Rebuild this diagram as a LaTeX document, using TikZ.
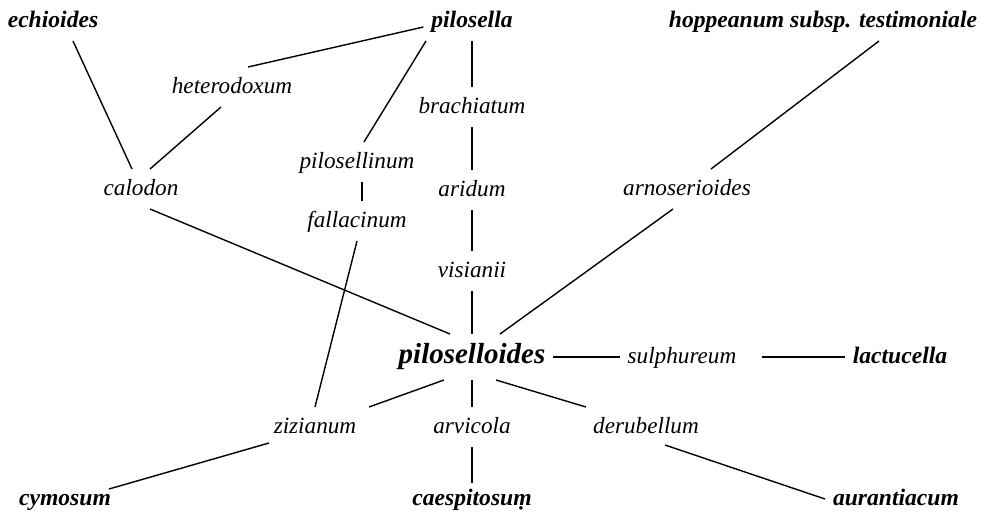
\documentclass[tikz,border=0pt]{standalone}
\usepackage{fontspec}
\setmainfont{Liberation Serif}
\usetikzlibrary{positioning}
\tikzset{
  taxon/.style={font=\fontsize{11.6}{13}\selectfont\itshape, inner sep=1pt, outer sep=3pt,
    text height=9pt, text depth=3pt, anchor=base},
  parent/.style={taxon, font=\fontsize{11.8}{13}\selectfont\bfseries\itshape},
  hub/.style={taxon, font=\fontsize{14.5}{16}\selectfont\bfseries\itshape,
    text height=10.5pt, text depth=4.5pt},
  link/.style={line width=0.7pt},
}

\begin{document}
\begin{tikzpicture}[x=0.5pt,y=-0.5pt]
      \useasboundingbox (0,0) rectangle (987,516);
      % Top row (parent species)
      \node[parent] (echioides) at (53,27) {echioides};
      \node[parent] (pilosella) at (472,27) {pilosella};
      \node[parent] (hoppeanum) at (823,27) {hoppeanum subsp. testimoniale};
      % Intermediate taxa, upper half
      \node[taxon] (heterodoxum) at (232,93) {heterodoxum};
      \node[taxon] (brachiatum) at (472,113) {brachiatum};
      \node[taxon] (pilosellinum) at (357,168) {pilosellinum};
      \node[taxon] (calodon) at (141,195) {calodon};
      \node[taxon] (aridum) at (472,196) {aridum};
      \node[taxon] (arnoserioides) at (687,195) {arnoserioides};
      \node[taxon] (fallacinum) at (357,227) {fallacinum};
      \node[taxon] (visianii) at (472,277) {visianii};
      % Centre
      \node[hub] (piloselloides) at (472,363) {piloselloides};
      \node[taxon] (sulphureum) at (682,363) {sulphureum};
      \node[parent] (lactucella) at (900,363) {lactucella};
      % Intermediate taxa, lower half
      \node[taxon] (zizianum) at (315,433) {zizianum};
      \node[taxon] (arvicola) at (472,433) {arvicola};
      \node[taxon] (derubellum) at (646,433) {derubellum};
      % Bottom row
      \node[parent] (cymosum) at (65,505) {cymosum};
      \node[parent] (caespitosum) at (472,505) {caespitosu\d{m}};
      \node[parent] (aurantiacum) at (896,505) {aurantiacum};
      % Links, upper half
      \draw[link] ([xshift=10pt]echioides.south) -- ([xshift=-4.5pt]calodon.north);
      \draw[link] ([yshift=-3pt]pilosella.west) -- ([xshift=8pt]heterodoxum.north);
      \draw[link] ([xshift=-5.5pt]heterodoxum.south) -- ([xshift=4.5pt]calodon.north);
      \draw[link] ([xshift=-23pt]pilosella.south) -- ([xshift=3.5pt]pilosellinum.north);
      \draw[link] (pilosella) -- (brachiatum);
      \draw[link] (brachiatum) -- (aridum);
      \draw[link] ([xshift=2.5pt]pilosellinum.south) -- ([xshift=2.5pt]fallacinum.north);
      \draw[link] (aridum) -- (visianii);
      \draw[link] (visianii) -- (piloselloides);
      \draw[link] ([xshift=4.5pt]calodon.south) -- ([xshift=-11pt]piloselloides.north);
      \draw[link] (fallacinum.south) -- (zizianum.north);
      \draw[link] ([xshift=28pt]hoppeanum.south) -- ([xshift=12pt]arnoserioides.north);
      \draw[link] ([xshift=-7pt]arnoserioides.south) -- ([xshift=14pt]piloselloides.north);
      % Links, centre and lower half
      \draw[link] (piloselloides) -- (sulphureum);
      \draw[link, shorten <=9pt] (sulphureum) -- (lactucella);
      \draw[link] ([xshift=-14pt]piloselloides.south) -- ([xshift=27pt]zizianum.north);
      \draw[link] (piloselloides) -- (arvicola);
      \draw[link] ([xshift=12pt]piloselloides.south) -- ([xshift=-30pt]derubellum.north);
      \draw[link] ([xshift=-23pt,yshift=2pt]zizianum.south) -- ([xshift=22pt,yshift=-5pt]cymosum.north);
      \draw[link] (arvicola) -- ([yshift=-2pt]caespitosum.north);
      \draw[link] ([xshift=9.5pt,yshift=1pt]derubellum.south) -- (aurantiacum.west);
\end{tikzpicture}
\end{document}
